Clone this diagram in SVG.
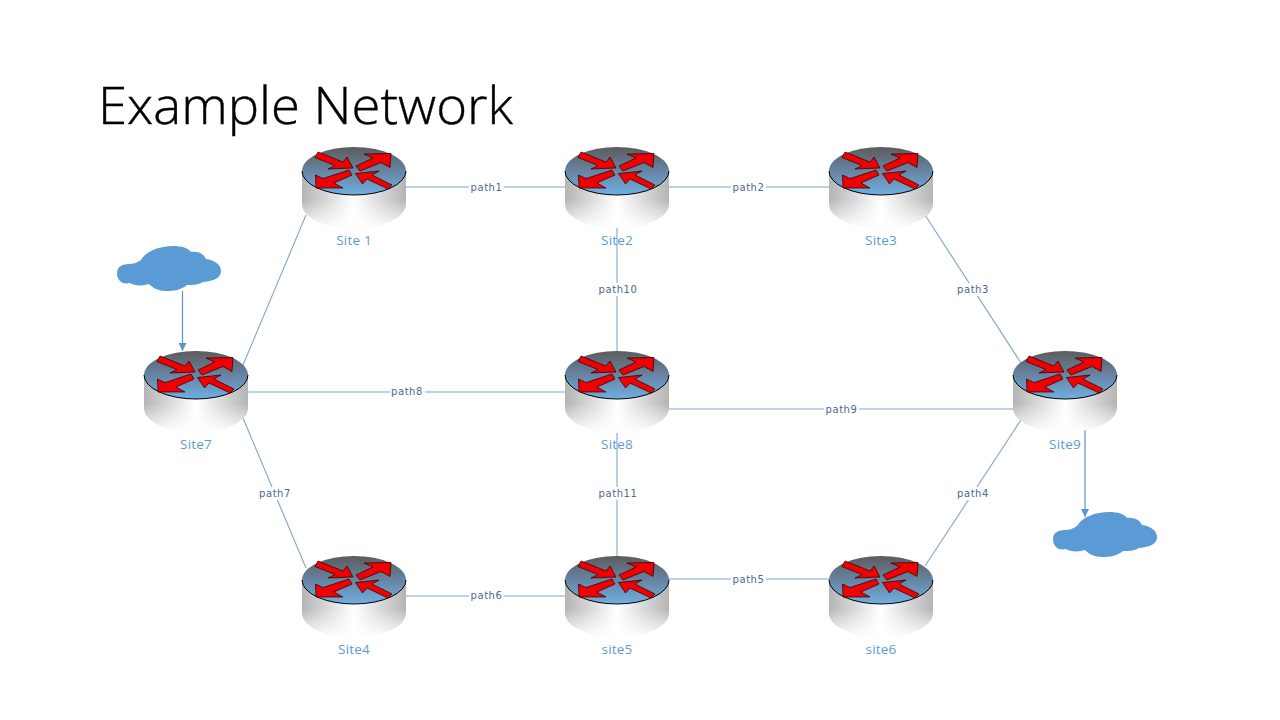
<svg xmlns="http://www.w3.org/2000/svg" xmlns:xlink="http://www.w3.org/1999/xlink" width="1280" height="720" viewBox="0 0 1280 720">
<style>
.c{stroke:#7fa6cc;stroke-width:1.1;fill:none}
.a{stroke:#5b93cc;stroke-width:1.2;fill:none;marker-end:url(#ah)}
.pl{font-family:"DejaVu Sans",sans-serif;font-size:10px;letter-spacing:.55px;fill:#4a6a8e;text-anchor:middle}
.pb{fill:#fff}
.sl{font-family:"Open Sans","Liberation Sans",sans-serif;font-size:13.500px;letter-spacing:.2px;fill:#5b9bd5;text-anchor:middle}
.ar{fill:#f00000;stroke:#200000;stroke-width:.7;stroke-linejoin:miter}
.cl{fill:#5b9bd5}
</style>
<defs>
<marker id="ah" markerWidth="9" markerHeight="8" refX="8" refY="4" orient="auto" markerUnits="userSpaceOnUse"><path d="M0 0L8 4L0 8Z" fill="#5b93cc"/></marker>
<linearGradient id="side" x1="0" x2="1" y1="0" y2="0"><stop offset="0" stop-color="#b4b4b4"/><stop offset=".5" stop-color="#ffffff"/><stop offset="1" stop-color="#b4b4b4"/></linearGradient>
<linearGradient id="fade" x1="0" x2="0" y1="0" y2="1"><stop offset="0" stop-color="#fff" stop-opacity="0"/><stop offset=".5" stop-color="#fff" stop-opacity="0"/><stop offset="1" stop-color="#fff" stop-opacity=".95"/></linearGradient>
<linearGradient id="top" x1="0" x2="0" y1="0" y2="1"><stop offset="0" stop-color="#5c5c5c"/><stop offset=".45" stop-color="#66809c"/><stop offset="1" stop-color="#70aee0"/></linearGradient>
<g id="router">
<path d="M-52 0V33A52 24 0 0 0 52 33V0Z" fill="url(#side)"/>
<path d="M-52 0V33A52 24 0 0 0 52 33V0Z" fill="url(#fade)"/>
<ellipse rx="52" ry="24" fill="url(#top)"/>
<path d="M-52 0A52 24 0 0 0 52 0" fill="none" stroke="#000" stroke-width="1"/>
<path class="ar" d="M-36 -19L-11 -9L-7 -14L-1 -3L-26 -2L-19 -5.500L-39 -13.500Z"/>
<path class="ar" d="M37 -17.500L10 -17L19 -13L2 -5L6 0L27 -8.500L36 -3.500Z"/>
<path class="ar" d="M-38 17L-38.500 4L-31 7.500L-5 -1L-2 4L-20 12L-11 17Z"/>
<path class="ar" d="M38 14L34 18L13 8L8.500 13L1.500 2.500L25 0L18 4Z"/>
</g>
<path id="cloud" class="cl" d="M117 273C117 267 122 264 129 264C133 264 136 263 141 260C146 251 160 246 173 246C182 246 188 248 191 252C198 251 204 254 206 259C215 260 221 265 221 271C221 278 214 281 203 282C198 285 193 285 187 285C181 290 174 291 166 291C158 291 153 288 149 284C143 286 134 286 130 283C122 285 117 280 117 273Z"/>
</defs>
<text x="98" y="124" font-family="'Open Sans','Liberation Sans',sans-serif" font-weight="300" font-size="52" textLength="415" lengthAdjust="spacingAndGlyphs" fill="#000" stroke="#000" stroke-width=".4">Example Network</text>
<g id="connectors">
<path class="c" d="M405 187H565"/><path class="c" d="M669 187H829"/>
<path class="c" d="M925 215L1021 363"/><path class="c" d="M1021 420L925 566"/>
<path class="c" d="M669 579H829"/><path class="c" d="M405 596H565"/>
<path class="c" d="M243 418L306 568"/><path class="c" d="M243 365L306 215"/>
<path class="c" d="M247 392H565"/><path class="c" d="M669 409H1013"/>
<path class="c" d="M617 228V352"/><path class="c" d="M617 433V556"/>
<path class="a" d="M182.500 291V351"/><path class="a" d="M1085 430V517"/>
</g>
<g id="connector-labels">
<rect class="pb" x="469" y="181" width="35" height="13"/><text class="pl" x="486.500" y="191">path1</text>
<rect class="pb" x="731" y="181" width="35" height="13"/><text class="pl" x="748.500" y="191">path2</text>
<rect class="pb" x="955" y="283" width="35" height="13"/><text class="pl" x="973" y="293">path3</text>
<rect class="pb" x="955" y="487" width="35" height="13"/><text class="pl" x="973" y="497">path4</text>
<rect class="pb" x="731" y="573" width="35" height="13"/><text class="pl" x="748.500" y="583">path5</text>
<rect class="pb" x="469" y="589" width="35" height="13"/><text class="pl" x="486.500" y="599">path6</text>
<rect class="pb" x="257" y="487" width="35" height="13"/><text class="pl" x="275" y="497">path7</text>
<rect class="pb" x="390" y="385" width="35" height="13"/><text class="pl" x="407" y="395">path8</text>
<rect class="pb" x="824" y="403" width="35" height="13"/><text class="pl" x="841.500" y="413">path9</text>
<rect class="pb" x="597" y="283" width="42" height="13"/><text class="pl" x="618" y="293">path10</text>
<rect class="pb" x="597" y="487" width="42" height="13"/><text class="pl" x="618" y="497">path11</text>
</g>
<g id="site1"><use xlink:href="#router" href="#router" x="354" y="171"/><text class="sl" x="354" y="245">Site 1</text></g>
<g id="site2"><use xlink:href="#router" href="#router" x="617" y="171"/><text class="sl" x="617" y="245">Site2</text></g>
<g id="site3"><use xlink:href="#router" href="#router" x="881" y="171"/><text class="sl" x="881" y="245">Site3</text></g>
<g id="site7"><use xlink:href="#router" href="#router" x="196" y="375"/><text class="sl" x="196" y="449">Site7</text></g>
<g id="site8"><use xlink:href="#router" href="#router" x="617" y="375"/><text class="sl" x="617" y="449">Site8</text></g>
<g id="site9"><use xlink:href="#router" href="#router" x="1065" y="375"/><text class="sl" x="1065" y="449">Site9</text></g>
<g id="site4"><use xlink:href="#router" href="#router" x="354" y="580"/><text class="sl" x="354" y="654">Site4</text></g>
<g id="site5"><use xlink:href="#router" href="#router" x="617" y="580"/><text class="sl" x="617" y="654">site5</text></g>
<g id="site6"><use xlink:href="#router" href="#router" x="881" y="580"/><text class="sl" x="881" y="654">site6</text></g>
<g id="cloud1"><use xlink:href="#cloud" href="#cloud"/></g>
<g id="cloud2"><use xlink:href="#cloud" href="#cloud" x="936" y="266"/></g>
</svg>
